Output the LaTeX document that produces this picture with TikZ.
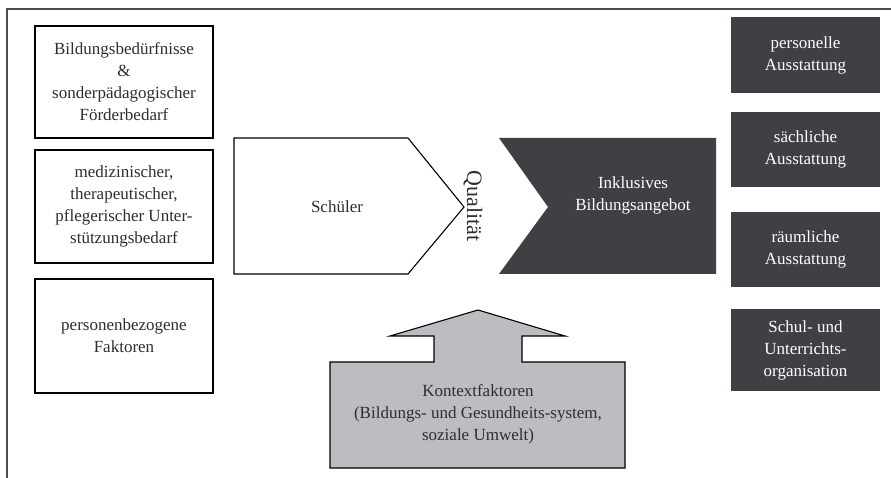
\documentclass[tikz,border=0pt]{standalone}
\usepackage{fontspec}
\setmainfont{Liberation Serif}
\definecolor{dunkel}{HTML}{3F4044}
\definecolor{hellgrau}{HTML}{BCBDC0}
\definecolor{schrift}{HTML}{2E2E2E}
\begin{document}
\begin{tikzpicture}[x=1pt, y=-1pt, every node/.style={font=\fontsize{17}{22}\selectfont, align=center, text=schrift},
    hellbox/.style={draw=black, line width=1.1pt, fill=white, minimum width=178pt, inner sep=0pt},
    dunkelbox/.style={fill=dunkel, text=white, minimum width=149pt, inner sep=0pt}]
    \useasboundingbox (0,0) rectangle (891,478);
    % Rahmen, nur oben und links sichtbar.
    \draw[line width=1.4pt, black!70] (7,478) -- (7,9) -- (891,9);

    % Linke Spalte: Merkmale der Schueler.
    \node[hellbox, minimum height=112pt] (beduerfnis) at (124,82) {Bildungsbedürfnisse\\ \&\\ sonderpädagogischer\\ Förderbedarf};
    \node[hellbox, minimum height=113pt] (unterstuetzung) at (124,206.5) {medizinischer,\\ therapeutischer,\\ pflegerischer Unter-\\ stützungsbedarf};
    \node[hellbox, minimum height=114pt] (person) at (124,336) {personenbezogene\\ Faktoren};

    % Schueler-Pfeil, Qualitaet und Bildungsangebot.
    \draw[line width=1.1pt, fill=white] (234,138) -- (408,138) -- (464,207) -- (408,274) -- (234,274) -- cycle;
    \node (schueler) at (337,207) {Schüler};
    \node[rotate=-90, font=\fontsize{22}{26}\selectfont] (qualitaet) at (473,206) {Qualität};
    \fill[dunkel] (499,138) -- (716,138) -- (716,274) -- (499,274) -- (548,207) -- cycle;
    \node[text=white] (angebot) at (633,195) {Inklusives\\ Bildungsangebot};

    % Rechte Spalte: Ausstattung und Organisation.
    \node[dunkelbox, minimum height=76pt] (personell) at (805.5,55) {personelle\\ Ausstattung};
    \node[dunkelbox, minimum height=75pt] (saechlich) at (805.5,149.5) {sächliche\\ Ausstattung};
    \node[dunkelbox, minimum height=75pt] (raeumlich) at (805.5,249.5) {räumliche\\ Ausstattung};
    \node[dunkelbox, minimum height=82pt] (organisation) at (805.5,350) {Schul- und\\ Unterrichts-\\ organisation};

    % Kontextfaktoren als Pfeil nach oben.
    \draw[line width=1.1pt, fill=hellgrau] (330,362) -- (434,362) -- (434,336) -- (390,336) -- (478,310)
        -- (565,336) -- (522,336) -- (522,362) -- (625,362) -- (625,468) -- (330,468) -- cycle;
    \node (kontext) at (478,414) {Kontextfaktoren\\ (Bildungs- und Gesundheits-system,\\ soziale Umwelt)};
\end{tikzpicture}
\end{document}
